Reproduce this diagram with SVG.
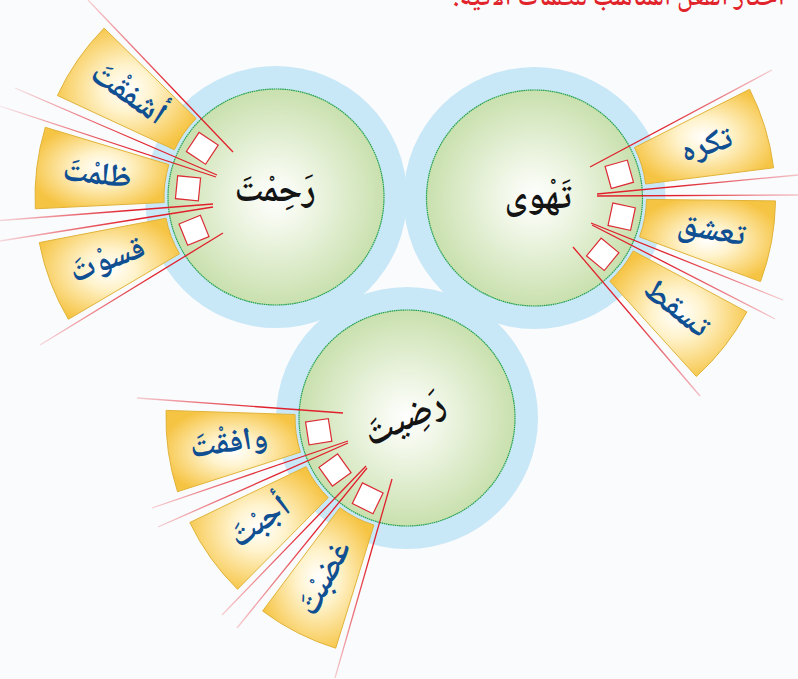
<svg xmlns="http://www.w3.org/2000/svg" width="798" height="679" viewBox="0 0 798 679">
<defs>
<style>
.ring{fill:#c8e7f7}
.core{fill:url(#gGreen);stroke:#25a24c;stroke-width:1.2;stroke-dasharray:1.6 0.6}
.wedge{fill:url(#gYel);stroke:#e0b33a;stroke-width:1}
.sq{fill:#ffffff;stroke:#dc2b33;stroke-width:1.2}
.w{font-family:"Noto Naskh Arabic","Noto Sans Arabic","DejaVu Sans",sans-serif;font-weight:bold;font-size:32px;fill:#0f4f92;text-anchor:middle;dominant-baseline:middle}
.c{font-family:"Noto Naskh Arabic","Noto Sans Arabic","DejaVu Sans",sans-serif;font-weight:bold;font-size:36px;fill:#141414;text-anchor:middle;dominant-baseline:middle}
.title{font-family:"Noto Naskh Arabic","Noto Sans Arabic","DejaVu Sans",sans-serif;font-weight:bold;font-size:26px;fill:#e1232b}
</style>
<radialGradient id="gGreen" cx="0.5" cy="0.5" r="0.5">
<stop offset="0" stop-color="#ffffff"/>
<stop offset="0.3" stop-color="#f1f7e8"/>
<stop offset="1" stop-color="#c9e0ae"/>
</radialGradient>
<radialGradient id="gYel" cx="0.5" cy="0.5" r="0.55">
<stop offset="0" stop-color="#ffffff"/>
<stop offset="0.35" stop-color="#fff3cc"/>
<stop offset="1" stop-color="#f6c443"/>
</radialGradient>
<radialGradient id="r1" gradientUnits="userSpaceOnUse" cx="276" cy="197" r="290">
<stop offset="0" stop-color="#e0202b"/>
<stop offset="0.5" stop-color="#e0202b"/>
<stop offset="1" stop-color="#e0202b" stop-opacity="0.08"/>
</radialGradient>
<radialGradient id="r2" gradientUnits="userSpaceOnUse" cx="534.5" cy="198" r="290">
<stop offset="0" stop-color="#e0202b"/>
<stop offset="0.5" stop-color="#e0202b"/>
<stop offset="1" stop-color="#e0202b" stop-opacity="0.08"/>
</radialGradient>
<radialGradient id="r3" gradientUnits="userSpaceOnUse" cx="407" cy="418" r="290">
<stop offset="0" stop-color="#e0202b"/>
<stop offset="0.5" stop-color="#e0202b"/>
<stop offset="1" stop-color="#e0202b" stop-opacity="0.08"/>
</radialGradient>
<rect id="sq" x="-11.5" y="-11.5" width="23" height="23"/>
</defs>
<rect width="798" height="679" fill="#fafbfd"/>
<text class="title" x="785" y="5" direction="rtl" text-anchor="start">أختار الفعل المناسب للكلمات الآتية:</text>

<g id="rings">
<circle class="ring" cx="276" cy="197" r="131"/>
<circle class="ring" cx="534.5" cy="198" r="131"/>
<circle class="ring" cx="407" cy="418" r="131"/>
</g>

<g id="node-rahimta">
<circle class="core" cx="276" cy="197" r="108"/>
<path class="wedge" d="M57.4,95.5 A241,241 0 0 1 104.1,28.1 L196.1,118.5 A112,112 0 0 0 174.4,149.8 Z"/>
<path class="wedge" d="M35.3,208.8 A241,241 0 0 1 45.3,127.3 L168.8,164.6 A112,112 0 0 0 164.1,202.5 Z"/>
<path class="wedge" d="M68.4,319.3 A241,241 0 0 1 39.3,242.6 L166.0,218.2 A112,112 0 0 0 179.5,253.8 Z"/>
</g>

<g id="node-tahwa">
<circle class="core" cx="534.5" cy="198" r="108"/>
<path class="wedge" d="M749.6,89.3 A241,241 0 0 1 773.6,167.8 L645.6,184.0 A112,112 0 0 0 634.5,147.5 Z"/>
<path class="wedge" d="M775.5,200.9 A241,241 0 0 1 760.5,281.6 L639.5,236.9 A112,112 0 0 0 646.5,199.4 Z"/>
<path class="wedge" d="M746.9,311.9 A241,241 0 0 1 696.4,376.5 L609.7,281.0 A112,112 0 0 0 633.2,250.9 Z"/>
</g>

<g id="node-radita">
<circle class="core" cx="407" cy="418" r="108"/>
<path class="wedge" d="M177.5,491.7 A241,241 0 0 1 166.1,410.4 L295.1,414.5 A112,112 0 0 0 300.4,452.2 Z"/>
<path class="wedge" d="M237.5,589.3 A241,241 0 0 1 189.8,522.5 L306.1,466.6 A112,112 0 0 0 328.2,497.6 Z"/>
<path class="wedge" d="M335.7,648.2 A241,241 0 0 1 262.6,611.0 L339.9,507.7 A112,112 0 0 0 373.9,525.0 Z"/>
</g>

<g id="connectors" fill="none" stroke-width="1.3">
<g stroke="url(#r1)">
<line x1="233" y1="152" x2="88" y2="0"/>
<line x1="217" y1="175" x2="15" y2="88"/>
<line x1="216" y1="177" x2="0" y2="106"/>
<line x1="213" y1="204" x2="0" y2="220.5"/>
<line x1="213" y1="207" x2="0" y2="241"/>
<line x1="223" y1="233" x2="40" y2="345"/>
</g>
<g stroke="url(#r2)">
<line x1="590" y1="167" x2="772" y2="70"/>
<line x1="597" y1="194" x2="798" y2="175"/>
<line x1="597" y1="196" x2="798" y2="195"/>
<line x1="591" y1="223" x2="783" y2="300"/>
<line x1="592" y1="225" x2="775" y2="319"/>
<line x1="573" y1="247" x2="700" y2="396"/>
</g>
<g stroke="url(#r3)">
<line x1="343" y1="413" x2="137" y2="398"/>
<line x1="348" y1="441" x2="152" y2="508"/>
<line x1="348" y1="443" x2="158" y2="527"/>
<line x1="366" y1="466" x2="222" y2="615"/>
<line x1="367" y1="468" x2="237" y2="628"/>
<line x1="392" y1="479" x2="335" y2="678"/>
</g>
</g>

<g id="boxes" class="sq">
<use href="#sq" transform="translate(202.3,148.3) rotate(213.5)"/>
<use href="#sq" transform="translate(188,188.3) rotate(185.6)"/>
<use href="#sq" transform="translate(194,230.3) rotate(157.9)"/>
<use href="#sq" transform="translate(619.3,174.3) rotate(-15.6)"/>
<use href="#sq" transform="translate(621.7,216.7) rotate(12.1)"/>
<use href="#sq" transform="translate(602.7,254.3) rotate(39.5)"/>
<use href="#sq" transform="translate(318.7,431.7) rotate(171.2)"/>
<use href="#sq" transform="translate(335,470) rotate(144.2)"/>
<use href="#sq" transform="translate(367.7,498.3) rotate(116)"/>
</g>

<g id="labels">
<text class="c" x="275" y="191">رَحِمْتَ</text>
<text class="c" x="538" y="198">تَهْوى</text>
<text class="c" transform="translate(405,420) rotate(-25)">رَضِيتَ</text>
<text class="w" transform="translate(128.1,94.4) rotate(34.7)">أشفقْتَ</text>
<text class="w" transform="translate(97.3,175.1) rotate(7)">ظلمْتَ</text>
<text class="w" transform="translate(107.6,260.6) rotate(-20.7)">قسوْتَ</text>
<text class="w" transform="translate(706.6,145.4) rotate(-17)">تكره</text>
<text class="w" transform="translate(711.5,230.8) rotate(10.5)">تعشق</text>
<text class="w" transform="translate(676.3,308.8) rotate(38)">تسقط</text>
<text class="w" transform="translate(228.8,443.1) rotate(-8)">وافقْتَ</text>
<text class="w" transform="translate(260.5,522.5) rotate(-35.5)">أجبْتَ</text>
<text class="w" transform="translate(325.3,578.4) rotate(-63)">غضبْتَ</text>
</g>
</svg>
